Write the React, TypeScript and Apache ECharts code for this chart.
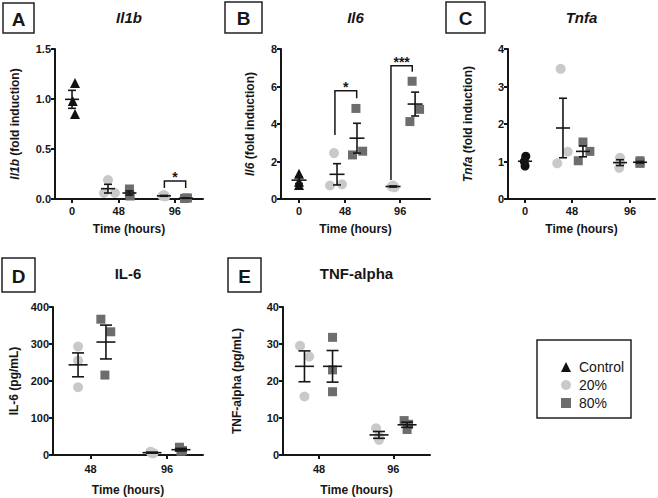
import React, { useEffect, useRef } from "react";
import * as echarts from "echarts";

// ---------------- data ----------------
const timeLabelsTop = ["0", "48", "96"];
const timeLabelsBottom = ["48", "96"];
const legendNames = ["Control", "20%", "80%"];

// A – Il1b (fold induction)
const il1bControl = [1.16, 0.98, 0.85];
const il1b20_48 = [0.19, 0.06, 0.06];
const il1b80_48 = [0.1, 0.05, 0.03];
const il1b20_96 = [0.04, 0.03, 0.025];
const il1b80_96 = [0.01, 0.005, 0.01];

// B – Il6 (fold induction)
const il6Control = [1.35, 0.92, 0.75];
const il6_20_48 = [2.45, 0.72, 0.78];
const il6_80_48 = [4.83, 2.35, 2.55];
const il6_20_96 = [0.72, 0.66, 0.62];
const il6_80_96 = [6.28, 4.13, 4.78];

// C – Tnfa (fold induction)
const tnfaControl = [1.14, 1.0, 0.88];
const tnfa20_48 = [3.47, 0.95, 1.26];
const tnfa80_48 = [1.52, 1.27, 1.02];
const tnfa20_96 = [1.1, 0.98, 0.83];
const tnfa80_96 = [1.02, 0.97, 0.95];

// D – IL-6 (pg/mL)
const il6pg20_48 = [293, 255, 183];
const il6pg80_48 = [367, 333, 216];
const il6pg20_96 = [9, 5, 5];
const il6pg80_96 = [21, 12, 10];

// E – TNF-alpha (pg/mL)
const tnf20_48 = [29.5, 26.6, 15.8];
const tnf80_48 = [31.8, 23.0, 17.1];
const tnf20_96 = [7.2, 5.0, 4.1];
const tnf80_96 = [9.3, 8.3, 6.9];

// significance labels
const sigA = ["*"];
const sigB = ["*", "***"];

// ---------------- styling / layout ----------------
const FONT = '"Liberation Sans", Arial, Helvetica, sans-serif';
const INK = "#161616";
const C_CTRL = "#111111";
const C_20 = "#c9c9c9";
const C_80 = "#6d6d6d";

function stats(v: number[]) {
  const n = v.length;
  const m = v.reduce((a, b) => a + b, 0) / n;
  const sd = Math.sqrt(v.reduce((a, b) => a + (b - m) * (b - m), 0) / (n - 1));
  return { m, sem: sd / Math.sqrt(n) };
}

type GroupSet = { x: number; vals: number[]; jit: number[] };
type Panel = {
  grid: { left: number; top: number; width: number; height: number };
  yMin: number; yMax: number; yInterval: number; yDec: number;
  yName: string; yNameGap: number; xNameGap: number; labelMargin: number;
  title: string; titleItalic: boolean; titleY: number;
  letter: string; box: [number, number, number, number];
  control?: GroupSet; controlSymbol?: string;
  p20: GroupSet[]; p80: GroupSet[];
  tickPos: number[]; tickLabels: string[];
  brackets: number[][]; sig: string[];
  half: number; cap: number;
};

const panels: Panel[] = [
  {
    grid: { left: 55, top: 49, width: 148, height: 150 },
    yMin: 0, yMax: 1.5, yInterval: 0.5, yDec: 1,
    yName: "{i|Il1b} (fold induction)", yNameGap: 34, xNameGap: 24, labelMargin: 6,
    title: "Il1b", titleItalic: true, titleY: 17, letter: "A", box: [3, 3, 31, 30],
    control: { x: 1.15, vals: il1bControl, jit: [0.2, 0.05, 0.2] }, controlSymbol: "triangle",
    p20: [
      { x: 3.58, vals: il1b20_48, jit: [0, -0.27, 0.47] },
      { x: 7.36, vals: il1b20_96, jit: [0, -0.1, 0.1] },
    ],
    p80: [
      { x: 5.03, vals: il1b80_48, jit: [0, 0, 0.05] },
      { x: 8.85, vals: il1b80_96, jit: [0, -0.1, 0.1] },
    ],
    tickPos: [1.15, 4.3, 8.1], tickLabels: timeLabelsTop,
    brackets: [[7.39, 8.83, 0.18, 0.11, 0.11]], sig: sigA,
    half: 7, cap: 4,
  },
  {
    grid: { left: 281, top: 49, width: 149, height: 150 },
    yMin: 0, yMax: 8, yInterval: 2, yDec: 0,
    yName: "{i|Il6} (fold induction)", yNameGap: 25, xNameGap: 24, labelMargin: 6,
    title: "Il6", titleItalic: true, titleY: 17, letter: "B", box: [225, 2, 37, 31],
    control: { x: 1.21, vals: il6Control, jit: [0, 0, 0] }, controlSymbol: "triangle",
    p20: [
      { x: 3.76, vals: il6_20_48, jit: [-0.2, -0.47, 0.33] },
      { x: 7.52, vals: il6_20_96, jit: [0, -0.1, 0.1] },
    ],
    p80: [
      { x: 5.1, vals: il6_80_48, jit: [-0.07, -0.3, 0.38] },
      { x: 9.0, vals: il6_80_96, jit: [-0.2, -0.35, 0.3] },
    ],
    tickPos: [1.21, 4.3, 8.0], tickLabels: timeLabelsTop,
    brackets: [
      [3.62, 5.08, 5.78, 3.41, 5.37],
      [7.38, 8.81, 7.11, 1.01, 6.79],
    ],
    sig: sigB,
    half: 7.5, cap: 4,
  },
  {
    grid: { left: 508, top: 49, width: 147, height: 150 },
    yMin: 0, yMax: 4, yInterval: 1, yDec: 0,
    yName: "{i|Tnfa} (fold induction)", yNameGap: 34, xNameGap: 24, labelMargin: 6,
    title: "Tnfa", titleItalic: true, titleY: 17, letter: "C", box: [446, 2, 39, 31],
    control: { x: 1.16, vals: tnfaControl, jit: [0.05, -0.05, 0] }, controlSymbol: "circle",
    p20: [
      { x: 3.74, vals: tnfa20_48, jit: [-0.16, -0.39, 0.32] },
      { x: 7.62, vals: tnfa20_96, jit: [0, 0, -0.05] },
    ],
    p80: [
      { x: 5.1, vals: tnfa80_48, jit: [0, 0.47, -0.32] },
      { x: 8.98, vals: tnfa80_96, jit: [0, 0, 0] },
    ],
    tickPos: [1.16, 4.35, 8.3], tickLabels: timeLabelsTop,
    brackets: [], sig: [],
    half: 7, cap: 4,
  },
  {
    grid: { left: 53, top: 307, width: 150, height: 148 },
    yMin: 0, yMax: 400, yInterval: 100, yDec: 0,
    yName: "IL-6 (pg/mL)", yNameGap: 33, xNameGap: 29, labelMargin: 8,
    title: "IL-6", titleItalic: false, titleY: 273, letter: "D", box: [2, 258, 33, 34],
    p20: [
      { x: 1.67, vals: il6pg20_48, jit: [0, 0, 0] },
      { x: 6.6, vals: il6pg20_96, jit: [-0.1, 0.1, 0] },
    ],
    p80: [
      { x: 3.53, vals: il6pg80_48, jit: [-0.34, 0.32, -0.07] },
      { x: 8.53, vals: il6pg80_96, jit: [-0.1, 0.1, 0] },
    ],
    tickPos: [2.5, 7.6], tickLabels: timeLabelsBottom,
    brackets: [], sig: [],
    half: 9.5, cap: 6,
  },
  {
    grid: { left: 283, top: 307, width: 147, height: 148 },
    yMin: 0, yMax: 40, yInterval: 10, yDec: 0,
    yName: "TNF-alpha (pg/mL)", yNameGap: 40, xNameGap: 29, labelMargin: 8,
    title: "TNF-alpha", titleItalic: false, titleY: 273, letter: "E", box: [228, 258, 33, 34],
    p20: [
      { x: 1.46, vals: tnf20_48, jit: [-0.3, 0.32, 0] },
      { x: 6.53, vals: tnf20_96, jit: [-0.2, 0, 0] },
    ],
    p80: [
      { x: 3.37, vals: tnf80_48, jit: [0, 0, 0] },
      { x: 8.44, vals: tnf80_96, jit: [-0.2, 0.1, 0] },
    ],
    tickPos: [2.45, 7.5], tickLabels: timeLabelsBottom,
    brackets: [], sig: [],
    half: 9.5, cap: 6,
  },
];

function pts(sets: GroupSet[]) {
  const out: number[][] = [];
  sets.forEach((s) => s.vals.forEach((v, k) => out.push([s.x + s.jit[k], v])));
  return out;
}

function buildOption() {
  const grid: any[] = [];
  const xAxis: any[] = [];
  const yAxis: any[] = [];
  const series: any[] = [];
  const graphic: any[] = [];

  panels.forEach((p, i) => {
    grid.push({ ...p.grid, containLabel: false });
    const tickPos = p.tickPos;
    const tickLabels = p.tickLabels;
    xAxis.push({
      gridIndex: i,
      type: "value",
      min: 0,
      max: 10,
      name: "Time (hours)",
      nameLocation: "middle",
      nameGap: p.xNameGap,
      nameTextStyle: { fontFamily: FONT, fontSize: 12, fontWeight: "bold", color: INK },
      axisLine: { show: true, onZero: false, lineStyle: { color: INK, width: 2 } },
      axisTick: { show: true, length: 4, customValues: tickPos, lineStyle: { color: INK, width: 2 } },
      axisLabel: {
        show: true,
        customValues: tickPos,
        margin: p.labelMargin,
        fontFamily: FONT,
        fontSize: 11,
        fontWeight: "bold",
        color: INK,
        formatter: (v: number) => {
          let best = 0;
          tickPos.forEach((t, k) => {
            if (Math.abs(t - v) < Math.abs(tickPos[best] - v)) best = k;
          });
          return tickLabels[best];
        },
      },
      splitLine: { show: false },
    });
    yAxis.push({
      gridIndex: i,
      type: "value",
      min: p.yMin,
      max: p.yMax,
      interval: p.yInterval,
      name: p.yName,
      nameLocation: "middle",
      nameGap: p.yNameGap,
      nameRotate: 90,
      nameTextStyle: {
        fontFamily: FONT, fontSize: 12, fontWeight: "bold", color: INK,
        rich: { i: { fontFamily: FONT, fontSize: 12, fontWeight: "bold", fontStyle: "italic", color: INK } },
      },
      axisLine: { show: true, onZero: false, lineStyle: { color: INK, width: 2 } },
      axisTick: { show: true, length: 4, lineStyle: { color: INK, width: 2 } },
      axisLabel: {
        margin: 4,
        fontFamily: FONT, fontSize: 11, fontWeight: "bold", color: INK,
        formatter: (v: number) => v.toFixed(p.yDec),
      },
      splitLine: { show: false },
    });

    const allSets: GroupSet[] = [];
    if (p.control) {
      series.push({
        type: "scatter", name: legendNames[0], xAxisIndex: i, yAxisIndex: i,
        symbol: p.controlSymbol, symbolSize: p.controlSymbol === "triangle" ? 10 : 9,
        itemStyle: { color: C_CTRL, opacity: 1 }, data: pts([p.control]), z: 2, silent: true,
      });
      allSets.push(p.control);
    }
    series.push({
      type: "scatter", name: legendNames[1], xAxisIndex: i, yAxisIndex: i,
      symbol: "circle", symbolSize: 10, itemStyle: { color: C_20, opacity: 1 },
      data: pts(p.p20), z: 2, silent: true,
    });
    series.push({
      type: "scatter", name: legendNames[2], xAxisIndex: i, yAxisIndex: i,
      symbol: "rect", symbolSize: 9, itemStyle: { color: C_80, opacity: 1 },
      data: pts(p.p80), z: 2, silent: true,
    });
    allSets.push(...p.p20, ...p.p80);

    const half = p.half;
    const cap = p.cap;
    series.push({
      type: "custom",
      xAxisIndex: i, yAxisIndex: i, z: 4, silent: true,
      encode: { x: 0, y: [1, 2, 3] },
      data: allSets.map((s) => {
        const st = stats(s.vals);
        return [s.x, st.m, st.m - st.sem, st.m + st.sem];
      }),
      renderItem: (_params: any, api: any) => {
        const x = api.value(0);
        const pm = api.coord([x, api.value(1)]);
        const pl = api.coord([x, api.value(2)]);
        const ph = api.coord([x, api.value(3)]);
        const st = { stroke: INK, lineWidth: 1.6 };
        return {
          type: "group",
          children: [
            { type: "line", shape: { x1: pm[0] - half, y1: pm[1], x2: pm[0] + half, y2: pm[1] }, style: st },
            { type: "line", shape: { x1: ph[0], y1: ph[1], x2: pl[0], y2: pl[1] }, style: st },
            { type: "line", shape: { x1: ph[0] - cap, y1: ph[1], x2: ph[0] + cap, y2: ph[1] }, style: st },
            { type: "line", shape: { x1: pl[0] - cap, y1: pl[1], x2: pl[0] + cap, y2: pl[1] }, style: st },
          ],
        };
      },
    });

    if (p.brackets.length) {
      const sig = p.sig;
      series.push({
        type: "custom",
        xAxisIndex: i, yAxisIndex: i, z: 5, silent: true,
        encode: { x: [0, 1], y: [2, 3, 4] },
        data: p.brackets,
        renderItem: (params: any, api: any) => {
          const xl = api.value(0), xr = api.value(1), top = api.value(2);
          const tl = api.coord([xl, top]);
          const tr = api.coord([xr, top]);
          const bl = api.coord([xl, api.value(3)]);
          const br = api.coord([xr, api.value(4)]);
          return {
            type: "group",
            children: [
              {
                type: "polyline",
                shape: { points: [bl, tl, tr, br] },
                style: { stroke: INK, lineWidth: 1.5, fill: "none" },
              },
              {
                type: "text",
                x: (tl[0] + tr[0]) / 2,
                y: tl[1] - 4,
                style: {
                  text: sig[params.dataIndex],
                  fill: INK,
                  font: `bold 14px ${FONT}`,
                  align: "center", verticalAlign: "middle",
                  textAlign: "center", textVerticalAlign: "middle",
                },
              },
            ],
          };
        },
      });
    }

    // title
    graphic.push({
      type: "text",
      x: p.grid.left + p.grid.width / 2,
      y: p.titleY,
      silent: true,
      style: {
        text: p.title,
        fill: INK,
        font: `${p.titleItalic ? "italic " : ""}bold 15px ${FONT}`,
        align: "center", verticalAlign: "middle",
        textAlign: "center", textVerticalAlign: "middle",
      },
    });
    // panel letter box
    const [bx, by, bw, bh] = p.box;
    graphic.push({
      type: "rect",
      shape: { x: bx, y: by, width: bw, height: bh },
      silent: true,
      style: { fill: "#ffffff", stroke: "#222222", lineWidth: 1.5 },
    });
    graphic.push({
      type: "text",
      x: bx + bw / 2,
      y: by + bh / 2 + 1,
      silent: true,
      style: {
        text: p.letter,
        fill: INK,
        font: `bold 19px ${FONT}`,
        align: "center", verticalAlign: "middle",
        textAlign: "center", textVerticalAlign: "middle",
      },
    });
  });

  // legend frame
  graphic.push({
    type: "rect",
    shape: { x: 537, y: 340, width: 94, height: 78 },
    silent: true,
    style: { fill: "none", stroke: "#222222", lineWidth: 1.5 },
  });

  return {
    animation: false,
    backgroundColor: "#ffffff",
    grid,
    xAxis,
    yAxis,
    series,
    graphic,
    legend: {
      orient: "vertical",
      left: 556,
      top: 354,
      itemWidth: 10,
      itemHeight: 10,
      itemGap: 2,
      selectedMode: false,
      textStyle: { fontFamily: FONT, fontSize: 14, lineHeight: 16, color: INK, padding: [0, 0, 0, 3] },
      data: [
        { name: legendNames[0], icon: "triangle" },
        { name: legendNames[1], icon: "circle" },
        { name: legendNames[2], icon: "rect" },
      ],
    },
  };
}

export default function App() {
  const ref = useRef<HTMLDivElement>(null);
  useEffect(() => {
    if (!ref.current) return;
    const chart = echarts.init(ref.current, null, { renderer: "svg" });
    chart.setOption(buildOption() as any);
    return () => chart.dispose();
  }, []);
  return (
    <div
      ref={ref}
      style={{ position: "absolute", left: 0, top: 0, width: 658, height: 498, background: "#fff" }}
    />
  );
}
